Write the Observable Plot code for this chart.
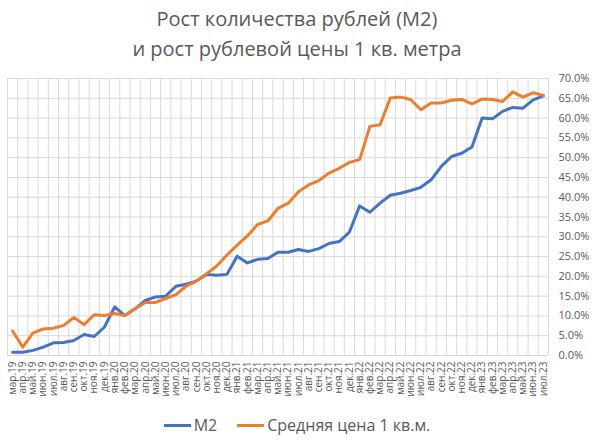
<!DOCTYPE html>
<html>
<head>
<meta charset="utf-8">
<script src="https://cdn.jsdelivr.net/npm/d3@7"></script>
<script src="https://cdn.jsdelivr.net/npm/@observablehq/plot@0.6"></script>
<style>
  body { margin: 0; background: #fff; font-family: "Open Sans", sans-serif; color: #595959; }
  #title { height: 62px; text-align: center; font-size: 20px; line-height: 30px; padding-top: 4px; box-sizing: border-box; }
  #legend { display: flex; justify-content: center; align-items: center; font-size: 16px; padding-top: 12px; }
  .sw { display: inline-block; width: 27px; height: 0; border-top: 3px solid; margin-right: 3px; }
  .item { display: flex; align-items: center; margin: 0 10px; }
</style>
</head>
<body>
<div id="title">Рост количества рублей (М2)<br>и рост рублевой цены 1 кв. метра</div>
<div id="chart"></div>
<div id="legend">
  <span class="item"><span class="sw" style="border-color:#4472C4"></span>М2</span>
  <span class="item"><span class="sw" style="border-color:#ED7D31"></span>Средняя цена 1 кв.м.</span>
</div>
<script>
const months = [
  "мар.19","апр.19","май.19","июн.19","июл.19","авг.19","сен.19","окт.19","ноя.19","дек.19",
  "янв.20","фев.20","мар.20","апр.20","май.20","июн.20","июл.20","авг.20","сен.20","окт.20","ноя.20","дек.20",
  "янв.21","фев.21","мар.21","апр.21","май.21","июн.21","июл.21","авг.21","сен.21","окт.21","ноя.21","дек.21",
  "янв.22","фев.22","мар.22","апр.22","май.22","июн.22","июл.22","авг.22","сен.22","окт.22","ноя.22","дек.22",
  "янв.23","фев.23","мар.23","апр.23","май.23","июн.23","июл.23"
];
// рост М2, %
const m2 = [
  0.8, 0.8, 1.3, 2.1, 3.2, 3.3, 3.8, 5.3, 4.8, 7.2,
  12.3, 10.1, 11.8, 13.9, 14.8, 15.0, 17.5, 18.0, 18.8, 20.5, 20.3, 20.5,
  25.1, 23.4, 24.3, 24.5, 26.1, 26.1, 26.8, 26.3, 27.0, 28.3, 28.8, 31.2,
  37.8, 36.2, 38.5, 40.5, 41.0, 41.7, 42.5, 44.4, 47.8, 50.3, 51.1, 52.7,
  60.0, 59.8, 61.7, 62.7, 62.5, 64.6, 65.6
];
// рост средней цены 1 кв.м., %
const price = [
  6.2, 2.1, 5.7, 6.7, 6.9, 7.6, 9.6, 7.8, 10.3, 10.1,
  10.6, 10.1, 11.8, 13.4, 13.4, 14.4, 15.4, 17.5, 18.8, 20.7, 22.6, 25.4,
  27.9, 30.2, 33.1, 34.0, 37.2, 38.5, 41.4, 43.1, 44.2, 46.1, 47.3, 48.8,
  49.5, 57.9, 58.3, 65.1, 65.3, 64.7, 62.1, 63.8, 63.8, 64.5, 64.7, 63.6,
  64.8, 64.7, 64.2, 66.6, 65.3, 66.4, 65.7
];
const yTicks = d3.range(0, 71, 5);

const rows = [];
months.forEach((m, i) => {
  rows.push({i, series: "М2", v: m2[i]});
  rows.push({i, series: "Средняя цена 1 кв.м.", v: price[i]});
});

const chart = Plot.plot({
  width: 594,
  height: 340,
  marginTop: 16,
  marginBottom: 47,
  marginLeft: 7,
  marginRight: 46,
  style: {fontFamily: "Open Sans, sans-serif", color: "#595959", background: "#fff"},
  x: {domain: [-0.5, months.length - 0.5], axis: null},
  y: {domain: [0, 70], axis: null},
  marks: [
    Plot.ruleY(yTicks, {stroke: "#d9d9d9", strokeWidth: 1}),
    Plot.ruleX(d3.range(months.length + 1), {x: d => d - 0.5, stroke: "#d9d9d9", strokeWidth: 1}),
    Plot.axisY({
      anchor: "right", ticks: yTicks, tickSize: 0, tickPadding: 10, label: null,
      tickFormat: d => d.toFixed(1) + "%", fontSize: 11, textAnchor: "start"
    }),
    Plot.axisX({
      ticks: d3.range(months.length), tickSize: 0, tickPadding: 6, tickRotate: -90, label: null,
      tickFormat: i => months[i], fontSize: 10
    }),
    Plot.line(rows, {
      x: "i", y: "v", z: "series",
      stroke: d => d.series === "М2" ? "#4472C4" : "#ED7D31",
      strokeWidth: 3, strokeLinejoin: "round", strokeLinecap: "round"
    })
  ]
});
d3.select("#chart").append(() => chart);
</script>
</body>
</html>
